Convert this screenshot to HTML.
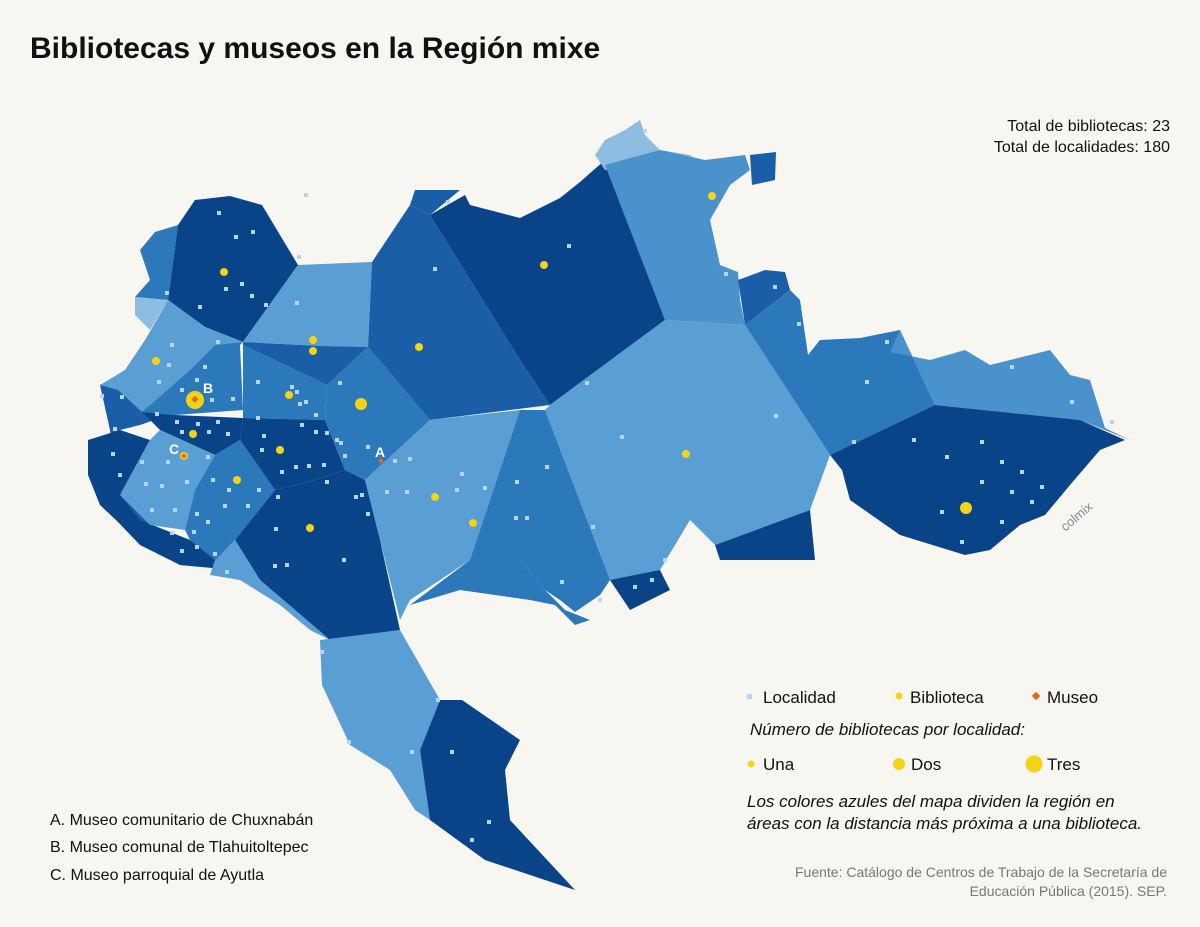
<!DOCTYPE html>
<html><head><meta charset="utf-8"><style>
html,body{margin:0;padding:0;background:#f8f6f1;}
svg{display:block;}
text{font-family:"Liberation Sans",sans-serif;}
</style></head><body>
<svg width="1200" height="927" viewBox="0 0 1200 927" xmlns="http://www.w3.org/2000/svg">
<rect width="1200" height="927" fill="#f8f6f1"/>
<text x="30" y="58" font-size="30" font-weight="bold" fill="#111">Bibliotecas y museos en la Región mixe</text>
<text x="1170" y="131" font-size="16" text-anchor="end" fill="#111">Total de bibliotecas: 23</text>
<text x="1170" y="152" font-size="16" text-anchor="end" fill="#111">Total de localidades: 180</text>
<g stroke-linejoin="round">
<!-- western strip -->
<polygon fill="#1a5ea8" points="100,385 118,378 160,418 140,425 120,430 95,440 88,470 100,500 120,520 140,540 180,565 212,568 232,548 190,540 150,525 118,490 110,430"/>
<polygon fill="#0a4488" points="88,440 120,430 150,440 120,495 140,520 190,540 232,548 240,540 215,568 180,565 140,545 118,522 100,505 88,475"/>
<!-- NW upper small -->
<polygon fill="#2b78bb" points="140,250 155,232 178,225 168,300 135,297 150,280"/>
<polygon fill="#8dbde0" points="135,297 168,300 150,330 135,315"/>
<!-- NW dark -->
<polygon fill="#0a4488" points="178,225 195,200 230,196 262,205 298,265 243,342 205,327 168,300"/>
<!-- light west -->
<polygon fill="#5a9fd4" points="168,300 205,327 243,342 215,345 190,370 142,412 118,390 100,385 125,370 145,340 152,328"/>
<!-- B cell -->
<polygon fill="#2b78bb" points="243,342 240,345 243,410 175,415 142,412 190,370 215,345"/>
<!-- light north -->
<polygon fill="#5a9fd4" points="298,265 372,262 368,347 320,346 243,342"/>
<polygon fill="#1a5ea8" points="243,342 320,346 368,347 327,385 243,345"/>
<polygon fill="#2b78bb" points="243,345 327,385 325,420 243,418"/>
<!-- strip dark -->
<polygon fill="#0a4488" points="142,412 175,415 243,418 240,440 215,455 160,430"/>
<!-- C cell light -->
<polygon fill="#5a9fd4" points="120,495 150,440 160,430 215,455 195,490 185,530 150,525"/>
<polygon fill="#2b78bb" points="215,455 240,440 275,490 235,540 215,560 190,540 185,530 195,490"/>
<polygon fill="#0a4488" points="240,440 243,418 325,420 345,470 315,480 275,490"/>
<!-- center A cell -->
<polygon fill="#2b78bb" points="327,385 368,347 430,420 365,480 345,470 325,420"/>
<!-- north big mid -->
<polygon fill="#1a5ea8" points="372,262 410,205 430,215 520,360 550,405 430,420 368,347"/>
<polygon fill="#1a5ea8" points="410,205 415,190 460,190 430,215"/>
<!-- big dark north -->
<polygon fill="#0a4488" points="430,215 465,195 470,205 520,218 560,198 580,182 605,160 665,320 550,405 520,360"/>
<!-- NE light -->
<polygon fill="#8dbde0" points="595,155 605,140 625,130 640,120 645,135 660,150 690,155 705,165 605,170"/>
<polygon fill="#4a92cb" points="605,165 660,150 705,160 745,155 750,170 730,185 710,220 720,265 738,272 740,300 745,325 665,320"/>
<polygon fill="#1a5ea8" points="750,155 776,152 775,180 752,185"/>
<polygon fill="#1a5ea8" points="738,280 765,270 785,272 790,290 745,325"/>
<!-- big center light -->
<polygon fill="#5a9fd4" points="550,405 665,320 745,325 830,455 810,510 715,545 690,520 660,570 630,580 610,580 545,410"/>
<polygon fill="#0a4488" points="715,545 810,510 815,560 720,560"/>
<polygon fill="#0a4488" points="610,580 660,570 670,590 630,610"/>
<!-- right mid -->
<polygon fill="#2b78bb" points="745,325 790,290 800,300 808,355 820,340 860,338 900,330 935,405 830,455"/>
<!-- far right light strip -->
<polygon fill="#4a92cb" points="900,330 890,352 930,360 965,350 990,365 1050,350 1070,375 1090,380 1105,428 1130,440 1080,420 935,405"/>
<!-- far right dark -->
<polygon fill="#0a4488" points="830,455 935,405 1080,420 1125,440 1100,450 1070,485 1045,515 1020,525 990,550 965,555 900,535 850,500 842,470"/>
<!-- A-south light -->
<polygon fill="#5a9fd4" points="365,480 430,420 520,410 470,560 410,600 400,620 380,540"/>
<!-- mid south-east -->
<polygon fill="#2b78bb" points="520,410 545,410 610,580 600,595 575,612 560,600 545,590 520,560 470,560"/>
<polygon fill="#2b78bb" points="470,560 520,560 545,590 565,610 590,620 575,625 555,605 530,600 460,590 410,605"/>
<!-- dark south -->
<polygon fill="#0a4488" points="235,540 275,490 315,480 345,470 365,480 380,540 400,630 330,640 260,580"/>
<polygon fill="#5a9fd4" points="215,560 235,540 260,580 330,640 310,630 280,605 240,580 210,575"/>
<!-- tail -->
<polygon fill="#5a9fd4" points="320,640 400,630 440,700 420,750 430,820 415,810 390,770 350,745 322,685"/>
<polygon fill="#0a4488" points="440,700 462,700 520,740 505,770 510,820 575,890 485,860 430,820 420,750"/>
</g>
<!-- localities -->
<g fill="#b9d4ee">
<rect x="217" y="211" width="4" height="4"/><rect x="251" y="230" width="4" height="4"/><rect x="234" y="235" width="4" height="4"/><rect x="240" y="282" width="4" height="4"/><rect x="224" y="287" width="4" height="4"/><rect x="250" y="294" width="4" height="4"/><rect x="165" y="291" width="4" height="4"/><rect x="198" y="305" width="4" height="4"/><rect x="264" y="303" width="4" height="4"/><rect x="295" y="301" width="4" height="4"/>
<rect x="170" y="343" width="4" height="4"/><rect x="167" y="363" width="4" height="4"/><rect x="216" y="340" width="4" height="4"/><rect x="203" y="365" width="4" height="4"/><rect x="195" y="378" width="4" height="4"/><rect x="157" y="380" width="4" height="4"/><rect x="180" y="388" width="4" height="4"/><rect x="210" y="398" width="4" height="4"/><rect x="231" y="397" width="4" height="4"/><rect x="120" y="395" width="4" height="4"/><rect x="100" y="394" width="4" height="4"/>
<rect x="155" y="412" width="4" height="4"/><rect x="175" y="420" width="4" height="4"/><rect x="196" y="422" width="4" height="4"/><rect x="216" y="420" width="4" height="4"/><rect x="180" y="430" width="4" height="4"/><rect x="207" y="430" width="4" height="4"/><rect x="226" y="432" width="4" height="4"/><rect x="113" y="427" width="4" height="4"/><rect x="111" y="452" width="4" height="4"/><rect x="118" y="473" width="4" height="4"/>
<rect x="140" y="460" width="4" height="4"/><rect x="166" y="460" width="4" height="4"/><rect x="206" y="455" width="4" height="4"/><rect x="144" y="482" width="4" height="4"/><rect x="160" y="484" width="4" height="4"/><rect x="185" y="480" width="4" height="4"/><rect x="150" y="508" width="4" height="4"/><rect x="173" y="508" width="4" height="4"/><rect x="170" y="531" width="4" height="4"/><rect x="180" y="549" width="4" height="4"/>
<rect x="211" y="478" width="4" height="4"/><rect x="227" y="488" width="4" height="4"/><rect x="195" y="512" width="4" height="4"/><rect x="223" y="504" width="4" height="4"/><rect x="206" y="520" width="4" height="4"/><rect x="192" y="530" width="4" height="4"/><rect x="195" y="545" width="4" height="4"/><rect x="213" y="552" width="4" height="4"/><rect x="225" y="570" width="4" height="4"/><rect x="246" y="504" width="4" height="4"/><rect x="257" y="488" width="4" height="4"/>
<rect x="256" y="380" width="4" height="4"/><rect x="290" y="385" width="4" height="4"/><rect x="295" y="390" width="4" height="4"/><rect x="298" y="402" width="4" height="4"/><rect x="304" y="400" width="4" height="4"/><rect x="314" y="413" width="4" height="4"/><rect x="300" y="423" width="4" height="4"/><rect x="314" y="430" width="4" height="4"/><rect x="325" y="431" width="4" height="4"/><rect x="335" y="438" width="4" height="4"/><rect x="339" y="441" width="4" height="4"/><rect x="343" y="454" width="4" height="4"/><rect x="338" y="381" width="4" height="4"/>
<rect x="256" y="416" width="4" height="4"/><rect x="262" y="434" width="4" height="4"/><rect x="260" y="448" width="4" height="4"/><rect x="280" y="470" width="4" height="4"/><rect x="294" y="465" width="4" height="4"/><rect x="307" y="464" width="4" height="4"/><rect x="322" y="463" width="4" height="4"/><rect x="276" y="495" width="4" height="4"/><rect x="274" y="527" width="4" height="4"/><rect x="366" y="445" width="4" height="4"/><rect x="393" y="459" width="4" height="4"/><rect x="408" y="457" width="4" height="4"/>
<rect x="354" y="495" width="4" height="4"/><rect x="360" y="493" width="4" height="4"/><rect x="366" y="512" width="4" height="4"/><rect x="273" y="564" width="4" height="4"/><rect x="285" y="563" width="4" height="4"/><rect x="342" y="558" width="4" height="4"/><rect x="325" y="480" width="4" height="4"/>
<rect x="304" y="193" width="4" height="4"/><rect x="297" y="255" width="4" height="4"/><rect x="433" y="267" width="4" height="4"/><rect x="446" y="200" width="4" height="4"/><rect x="567" y="244" width="4" height="4"/><rect x="643" y="129" width="4" height="4"/><rect x="585" y="381" width="4" height="4"/><rect x="620" y="435" width="4" height="4"/><rect x="774" y="414" width="4" height="4"/><rect x="797" y="322" width="4" height="4"/><rect x="773" y="285" width="4" height="4"/><rect x="724" y="272" width="4" height="4"/>
<rect x="385" y="490" width="4" height="4"/><rect x="405" y="490" width="4" height="4"/><rect x="460" y="472" width="4" height="4"/><rect x="455" y="488" width="4" height="4"/><rect x="483" y="486" width="4" height="4"/><rect x="515" y="480" width="4" height="4"/><rect x="514" y="516" width="4" height="4"/><rect x="525" y="516" width="4" height="4"/><rect x="545" y="465" width="4" height="4"/><rect x="591" y="525" width="4" height="4"/><rect x="560" y="580" width="4" height="4"/><rect x="598" y="598" width="4" height="4"/><rect x="633" y="585" width="4" height="4"/><rect x="663" y="558" width="4" height="4"/><rect x="650" y="578" width="4" height="4"/>
<rect x="865" y="380" width="4" height="4"/><rect x="885" y="340" width="4" height="4"/><rect x="1010" y="365" width="4" height="4"/><rect x="1070" y="400" width="4" height="4"/><rect x="1110" y="420" width="4" height="4"/><rect x="852" y="440" width="4" height="4"/><rect x="912" y="438" width="4" height="4"/><rect x="945" y="455" width="4" height="4"/><rect x="980" y="440" width="4" height="4"/><rect x="1000" y="460" width="4" height="4"/><rect x="1020" y="470" width="4" height="4"/><rect x="1040" y="485" width="4" height="4"/><rect x="980" y="480" width="4" height="4"/><rect x="940" y="510" width="4" height="4"/><rect x="1000" y="520" width="4" height="4"/><rect x="1030" y="500" width="4" height="4"/><rect x="960" y="540" width="4" height="4"/><rect x="1010" y="490" width="4" height="4"/>
<rect x="320" y="650" width="4" height="4"/><rect x="347" y="740" width="4" height="4"/><rect x="410" y="750" width="4" height="4"/><rect x="436" y="698" width="4" height="4"/><rect x="450" y="750" width="4" height="4"/><rect x="487" y="820" width="4" height="4"/><rect x="470" y="838" width="4" height="4"/>
</g>
<!-- libraries -->
<g fill="#f5d316">
<circle cx="224" cy="272" r="4"/><circle cx="156" cy="361" r="4"/><circle cx="313" cy="340" r="4"/><circle cx="313" cy="351" r="4"/><circle cx="419" cy="347" r="4"/><circle cx="544" cy="265" r="4"/><circle cx="712" cy="196" r="4"/>
<circle cx="195" cy="400" r="9"/><circle cx="289" cy="395" r="4"/><circle cx="361" cy="404" r="6"/><circle cx="193" cy="434" r="4"/><circle cx="280" cy="450" r="4"/><circle cx="237" cy="480" r="4"/><circle cx="310" cy="528" r="4"/><circle cx="435" cy="497" r="4"/><circle cx="473" cy="523" r="4"/><circle cx="686" cy="454" r="4"/><circle cx="966" cy="508" r="6"/><circle cx="184" cy="456" r="4"/>
</g>
<g fill="#e06a1e"><rect x="192" y="397" width="5" height="5" transform="rotate(45 195 400)"/><rect x="182" y="454" width="4" height="4" transform="rotate(45 184 456)"/><rect x="379" y="459" width="4" height="4" transform="rotate(45 381 461)"/></g>
<g fill="#fff" font-weight="bold" font-size="14"><text x="203" y="393">B</text><text x="169" y="454">C</text><text x="375" y="457">A</text></g>
<text x="1050" y="530" font-size="13" fill="#7a8a9a" transform="rotate(-40 1060 510)">colmix</text>
<!-- legend -->
<rect x="747" y="694" width="5" height="5" fill="#b9d4ee"/>
<text x="763" y="703" font-size="17" fill="#111">Localidad</text>
<circle cx="899" cy="696" r="3.5" fill="#f5d316"/>
<text x="910" y="703" font-size="17" fill="#111">Biblioteca</text>
<rect x="1033" y="693" width="6" height="6" fill="#e06a1e" transform="rotate(45 1036 696)"/>
<text x="1047" y="703" font-size="17" fill="#111">Museo</text>
<text x="750" y="735" font-size="17" font-style="italic" fill="#111">Número de bibliotecas por localidad:</text>
<circle cx="751" cy="764" r="3.5" fill="#f5d316"/><text x="763" y="770" font-size="17" fill="#111">Una</text>
<circle cx="899" cy="764" r="6" fill="#f5d316"/><text x="911" y="770" font-size="17" fill="#111">Dos</text>
<circle cx="1034" cy="764" r="8.5" fill="#f5d316"/><text x="1047" y="770" font-size="17" fill="#111">Tres</text>
<text x="747" y="807" font-size="17" font-style="italic" fill="#111">Los colores azules del mapa dividen la región en</text>
<text x="747" y="829" font-size="17" font-style="italic" fill="#111">áreas con la distancia más próxima a una biblioteca.</text>
<text x="1167" y="877" font-size="14" text-anchor="end" fill="#777">Fuente: Catálogo de Centros de Trabajo de la Secretaría de</text>
<text x="1167" y="896" font-size="14" text-anchor="end" fill="#777">Educación Pública (2015). SEP.</text>
<text x="50" y="825" font-size="16" fill="#111">A. Museo comunitario de Chuxnabán</text>
<text x="50" y="852" font-size="16" fill="#111">B. Museo comunal de Tlahuitoltepec</text>
<text x="50" y="880" font-size="16" fill="#111">C. Museo parroquial de Ayutla</text>
</svg>
</body></html>
